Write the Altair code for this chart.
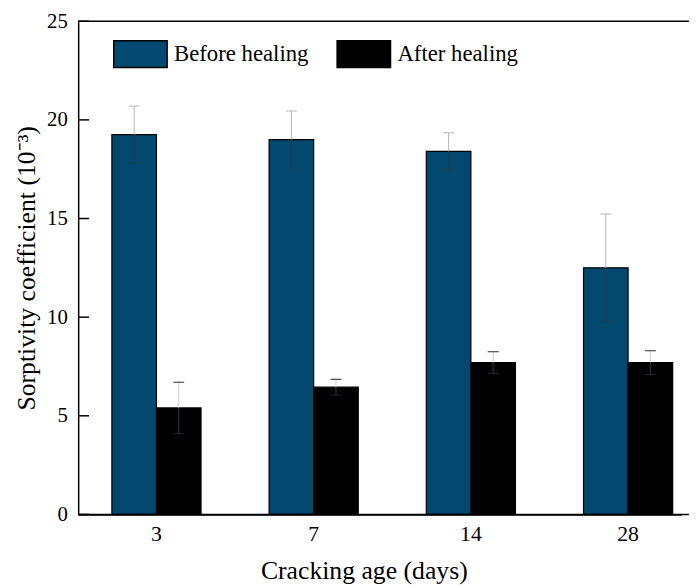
import altair as alt
import pandas as pd

ages = ["3", "7", "14", "28"]
series = ["Before healing", "After healing"]
before_vals = [19.25, 19.0, 18.4, 12.5]
before_err = [1.45, 1.45, 0.95, 2.73]
after_vals = [5.4, 6.45, 7.7, 7.7]
after_err = [1.3, 0.4, 0.55, 0.6]
y_ticks = [0, 5, 10, 15, 20, 25]

FONT = "Liberation Serif"
BLUE = "#02486F"

rows = []
for s, vals, errs in [(series[0], before_vals, before_err), (series[1], after_vals, after_err)]:
    for a, v, e in zip(ages, vals, errs):
        rows.append({"age": a, "series": s, "value": v, "lo": v - e, "hi": v + e})
df = pd.DataFrame(rows)
ticks_df = pd.DataFrame({"t": y_ticks})
frame_df = pd.DataFrame({"t": [0, 25]})

yscale = alt.Scale(domain=[0, 25], nice=False, zero=True)
xenc = alt.X(
    "age:N",
    sort=ages,
    scale=alt.Scale(domain=ages, paddingInner=0.433, paddingOuter=0.134, align=0.8),
    axis=alt.Axis(
        title="Cracking age (days)",
        labelAngle=0,
        ticks=False,
        domainColor="black",
        domainWidth=1.5,
        labelFont=FONT,
        labelFontSize=22,
        labelColor="black",
        labelPadding=9,
        titleFont=FONT,
        titleFontSize=26,
        titleFontWeight="normal",
        titleColor="black",
        titleX=289,
        titleY=65,
        titleBaseline="alphabetic",
    ),
)
xoff = alt.XOffset("series:N", sort=series, scale=alt.Scale(domain=series, paddingInner=0, paddingOuter=0))

bars = alt.Chart(df).mark_bar(stroke="black", strokeWidth=1.2).encode(
    x=xenc,
    xOffset=xoff,
    y=alt.Y(
        "value:Q",
        scale=yscale,
        axis=alt.Axis(
            title="Sorptivity coefficient (10⁻³)",
            values=y_ticks,
            ticks=False,
            grid=False,
            domainColor="black",
            domainWidth=1.5,
            labelFont=FONT,
            labelFontSize=21,
            labelColor="black",
            labelPadding=11,
            titleFont=FONT,
            titleFontSize=26,
            titleFontWeight="normal",
            titleColor="black",
            titlePadding=7,
        ),
    ),
    color=alt.Color(
        "series:N",
        sort=series,
        scale=alt.Scale(domain=series, range=[BLUE, "black"]),
        legend=alt.Legend(
            title=None,
            orient="none",
            legendX=35,
            legendY=5,
            direction="horizontal",
            symbolType="M-1,-0.5H1V0.5H-1Z",
            symbolSize=2916,
            symbolStrokeColor="black",
            symbolStrokeWidth=1.5,
            symbolOpacity=1,
            labelFont=FONT,
            labelFontSize=23,
            labelColor="black",
            labelOffset=6,
            columnPadding=25,
            padding=0,
            labelLimit=300,
        ),
    ),
)

base = alt.Chart(df).encode(x=alt.X("age:N", sort=ages), xOffset=alt.XOffset("series:N", sort=series))

upper_rule = base.mark_rule(strokeWidth=1).encode(
    y=alt.Y("value:Q"),
    y2="hi:Q",
    color=alt.Color("series:N", sort=series, scale=alt.Scale(domain=series, range=["#b5b5b5", "#d0d0d0"]), legend=None),
)
lower_rule = base.mark_rule(color="#2a3a48", strokeWidth=1).encode(y=alt.Y("lo:Q"), y2="value:Q")
upper_cap = base.mark_tick(orient="horizontal", size=11, thickness=1.2).encode(
    y=alt.Y("hi:Q"),
    color=alt.Color("series:N", sort=series, scale=alt.Scale(domain=series, range=["#a8a8a8", "black"]), legend=None),
)
lower_cap = base.mark_tick(orient="horizontal", size=11, thickness=1, color="#2a3a48").encode(y=alt.Y("lo:Q"))

inner_ticks = alt.Chart(ticks_df).mark_rule(color="black", strokeWidth=1.5).encode(
    y=alt.Y("t:Q"), x=alt.value(0), x2=alt.value(11)
)
frame_lines = alt.Chart(frame_df).mark_rule(color="black", strokeWidth=1.5).encode(
    y=alt.Y("t:Q"), x=alt.value(0), x2=alt.value(620)
)

chart = (
    alt.layer(bars, upper_rule, lower_rule, upper_cap, lower_cap, inner_ticks, frame_lines)
    .resolve_scale(color="independent")
    .properties(
        width=610,
        height=499,
        autosize=alt.AutoSizeParams(type="none"),
        padding={"left": 71, "top": 10, "right": 8, "bottom": 70},
    )
    .configure_view(stroke=None)
)

chart.save("out.html", embed_options={"renderer": "svg", "actions": False})
